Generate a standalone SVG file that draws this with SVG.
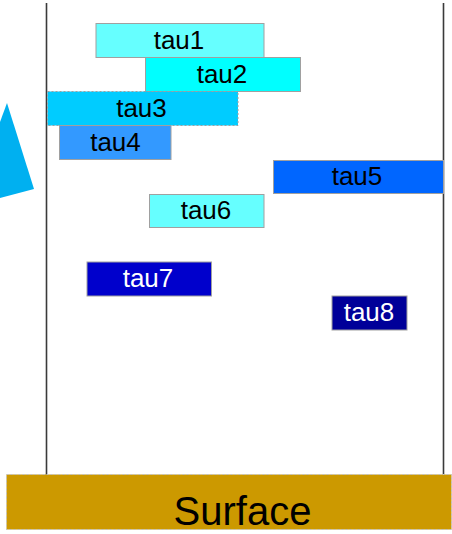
<svg xmlns="http://www.w3.org/2000/svg" width="452" height="534" viewBox="0 0 452 534">
  <style>
    .box { stroke: #a0a0a0; stroke-width: 1; }
    .lbl { font-family: "Liberation Sans", Arial, sans-serif; font-size: 26px; text-anchor: middle; fill: #000; }
    .lbl.light { fill: #fff; }
    .wall { stroke: #3a3a3a; stroke-width: 1.6; fill: none; }
  </style>
  <rect width="452" height="534" fill="#fff"/>

  <!-- side walls -->
  <g id="walls">
    <line class="wall" x1="46.5" y1="3" x2="46.5" y2="475"/>
    <line class="wall" x1="443.5" y1="3" x2="443.5" y2="475"/>
  </g>

  <!-- partial triangle on the left edge -->
  <polygon id="wedge" points="7,103 34,189 0,198 0,122" fill="#00b0f0"/>

  <g id="tau1">
    <rect class="box" x="96" y="23.5" width="168" height="34" fill="#66ffff"/>
    <text class="lbl" x="179" y="49">tau1</text>
  </g>
  <g id="tau2">
    <rect class="box" x="145.5" y="57.5" width="155" height="34" fill="#00ffff"/>
    <text class="lbl" x="222" y="82.5">tau2</text>
  </g>
  <g id="tau3">
    <rect x="47.5" y="91.5" width="190.5" height="34" fill="#00ccff" stroke="#a0a0a0" stroke-width="1" stroke-dasharray="2,2"/>
    <text class="lbl" x="141.5" y="117">tau3</text>
  </g>
  <g id="tau4">
    <rect class="box" x="59.5" y="125.5" width="111.5" height="34" fill="#3399ff"/>
    <text class="lbl" x="115.5" y="150.5">tau4</text>
  </g>
  <g id="tau5">
    <rect class="box" x="273.5" y="160.5" width="170" height="33" fill="#0066ff"/>
    <text class="lbl" x="357" y="185">tau5</text>
  </g>
  <g id="tau6">
    <rect class="box" x="149.5" y="194.5" width="114.5" height="33" fill="#66ffff"/>
    <text class="lbl" x="206" y="219">tau6</text>
  </g>
  <g id="tau7">
    <rect class="box" x="87" y="262" width="124.5" height="34" fill="#0000cc"/>
    <text class="lbl light" x="148" y="287">tau7</text>
  </g>
  <g id="tau8">
    <rect class="box" x="332" y="296" width="75" height="34" fill="#000099"/>
    <text class="lbl light" x="369" y="320.5">tau8</text>
  </g>

  <g id="surface">
    <rect x="6.5" y="474.5" width="445" height="55" fill="#cc9900" stroke="#c0c0c0" stroke-width="1" stroke-dasharray="2,2"/>
    <text x="242.5" y="524.5" font-family="'Liberation Sans', Arial, sans-serif" font-size="40" text-anchor="middle" fill="#000">Surface</text>
  </g>
</svg>
